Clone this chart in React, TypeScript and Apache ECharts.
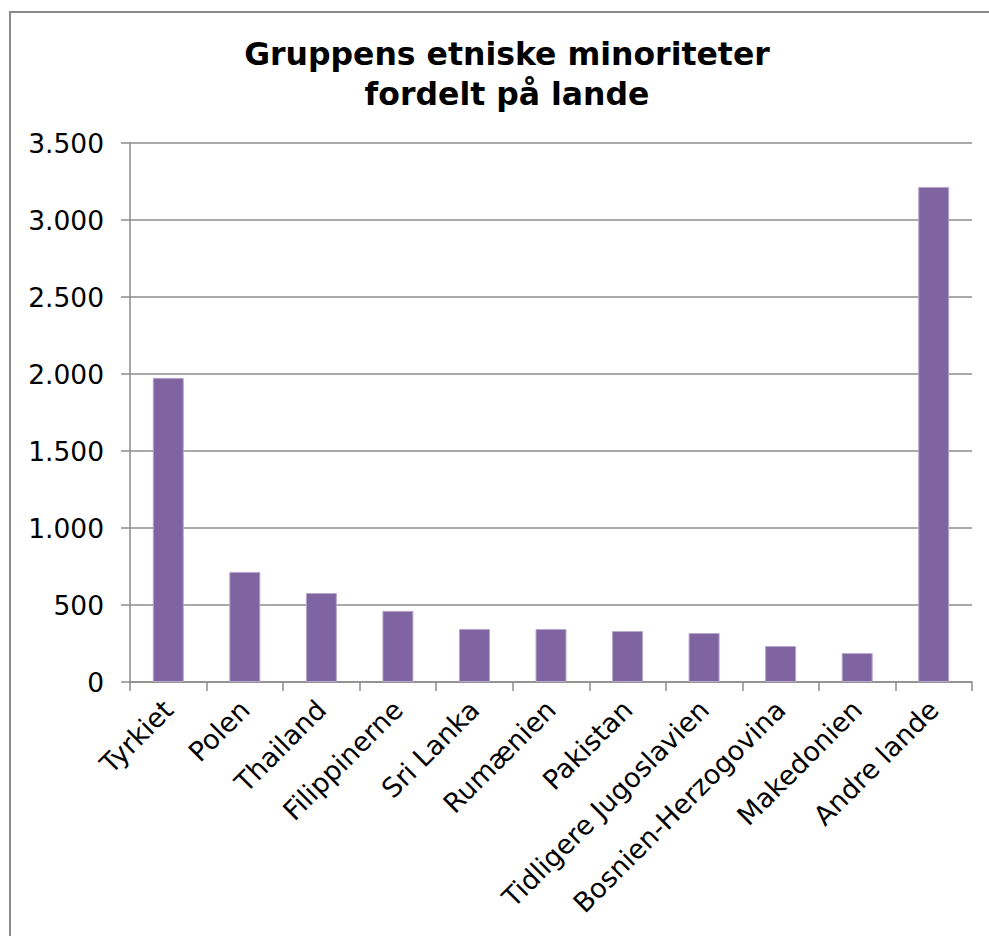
import React, { useEffect, useRef } from "react";
import * as echarts from "echarts";

const categories = [
  "Tyrkiet",
  "Polen",
  "Thailand",
  "Filippinerne",
  "Sri Lanka",
  "Rumænien",
  "Pakistan",
  "Tidligere Jugoslavien",
  "Bosnien-Herzogovina",
  "Makedonien",
  "Andre lande",
];
const values = [1975, 715, 578, 462, 344, 344, 331, 318, 234, 188, 3215];
const titleLines = ["Gruppens etniske minoriteter", "fordelt på lande"];

const FONT = "'DejaVu Sans', Verdana, sans-serif";

export default function App() {
  const ref = useRef<HTMLDivElement>(null);
  useEffect(() => {
    if (!ref.current) return;
    const chart = echarts.init(ref.current, null, { renderer: "svg" });
    chart.setOption({
      animation: false,
      backgroundColor: "#ffffff",
      graphic: [
        {
          type: "rect",
          shape: { x: 10, y: 12, width: 1100, height: 1100 },
          style: { fill: "none", stroke: "#8a8a8a", lineWidth: 2 },
          silent: true,
        },
        {
          type: "text",
          x: 507,
          y: 34,
          style: {
            text: titleLines.join("\n"),
            fontFamily: FONT,
            fontWeight: "bold",
            fontSize: 31.5,
            lineHeight: 40,
            fill: "#000000",
            align: "center",
            verticalAlign: "top",
          },
        },
      ],
      grid: { left: 130, right: 17, top: 143, bottom: 254, containLabel: false },
      xAxis: {
        type: "category",
        data: categories,
        boundaryGap: true,
        axisLine: { show: true, lineStyle: { color: "#8c8c8c", width: 1.5 } },
        axisTick: { show: true, length: 9, alignWithLabel: false, lineStyle: { color: "#8c8c8c", width: 1.5 } },
        axisLabel: {
          interval: 0,
          rotate: 45,
          margin: 23,
          fontFamily: FONT,
          fontSize: 27,
          color: "#000000",
        },
      },
      yAxis: {
        type: "value",
        min: 0,
        max: 3500,
        interval: 500,
        axisLine: { show: true, lineStyle: { color: "#8c8c8c", width: 1.5 } },
        axisTick: { show: true, length: 9, lineStyle: { color: "#8c8c8c", width: 1.5 } },
        splitLine: { show: true, lineStyle: { color: "#8c8c8c", width: 1.5 } },
        axisLabel: {
          margin: 26,
          fontFamily: FONT,
          fontSize: 26.5,
          color: "#000000",
          formatter: (v: number) => v.toString().replace(/\B(?=(\d{3})+(?!\d))/g, "."),
        },
      },
      series: [
        {
          type: "bar",
          data: values,
          barWidth: 31,
          itemStyle: { color: "#8064a2", borderColor: "#b8a8cc", borderWidth: 1 },
        },
      ],
    });
    return () => chart.dispose();
  }, []);
  return (
    <div
      ref={ref}
      style={{ position: "fixed", left: 0, top: 0, width: 989, height: 936 }}
    />
  );
}
